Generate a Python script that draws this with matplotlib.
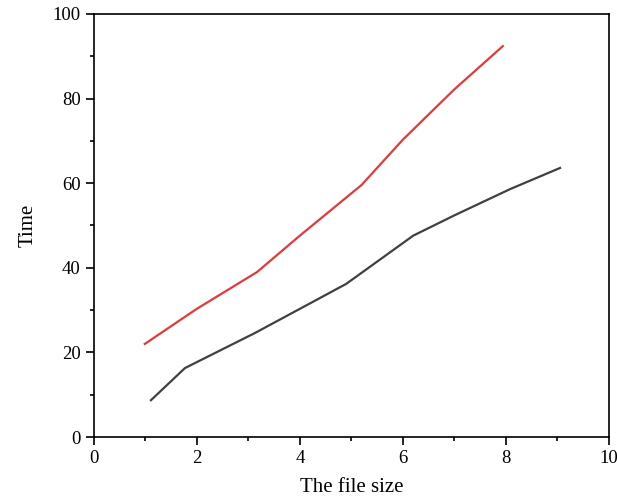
import matplotlib.pyplot as plt
from matplotlib.ticker import MultipleLocator

red_x = [0.99, 2.0, 3.17, 4.0, 5.2, 6.0, 7.0, 7.94]
red_y = [22.0, 30.3, 39.0, 47.6, 59.6, 70.3, 82.2, 92.4]
black_x = [1.11, 1.77, 3.13, 4.9, 6.2, 7.0, 8.08, 9.05]
black_y = [8.7, 16.3, 24.6, 36.2, 47.6, 52.4, 58.6, 63.6]

plt.rcParams['font.family'] = ['Liberation Serif', 'DejaVu Serif']

fig = plt.figure(figsize=(6.17, 5.0), dpi=100)
ax = fig.add_axes([0.152, 0.126, 0.835, 0.846])

ax.plot(red_x, red_y, color='#e03a3a', linewidth=1.6)
ax.plot(black_x, black_y, color='#404040', linewidth=1.6)

ax.set_xlim(0, 10)
ax.set_ylim(0, 100)
ax.xaxis.set_major_locator(MultipleLocator(2))
ax.xaxis.set_minor_locator(MultipleLocator(1))
ax.yaxis.set_major_locator(MultipleLocator(20))
ax.yaxis.set_minor_locator(MultipleLocator(10))
ax.tick_params(which='both', direction='out', top=False, right=False,
               labelsize=13.5, width=1.2)
ax.tick_params(which='major', length=6)
ax.tick_params(which='minor', length=3)
for s in ax.spines.values():
    s.set_linewidth(1.2)

ax.set_xlabel('The file size', fontsize=15, labelpad=8)
ax.set_ylabel('Time', fontsize=15, labelpad=11)

fig.savefig('out.png', dpi=100)
